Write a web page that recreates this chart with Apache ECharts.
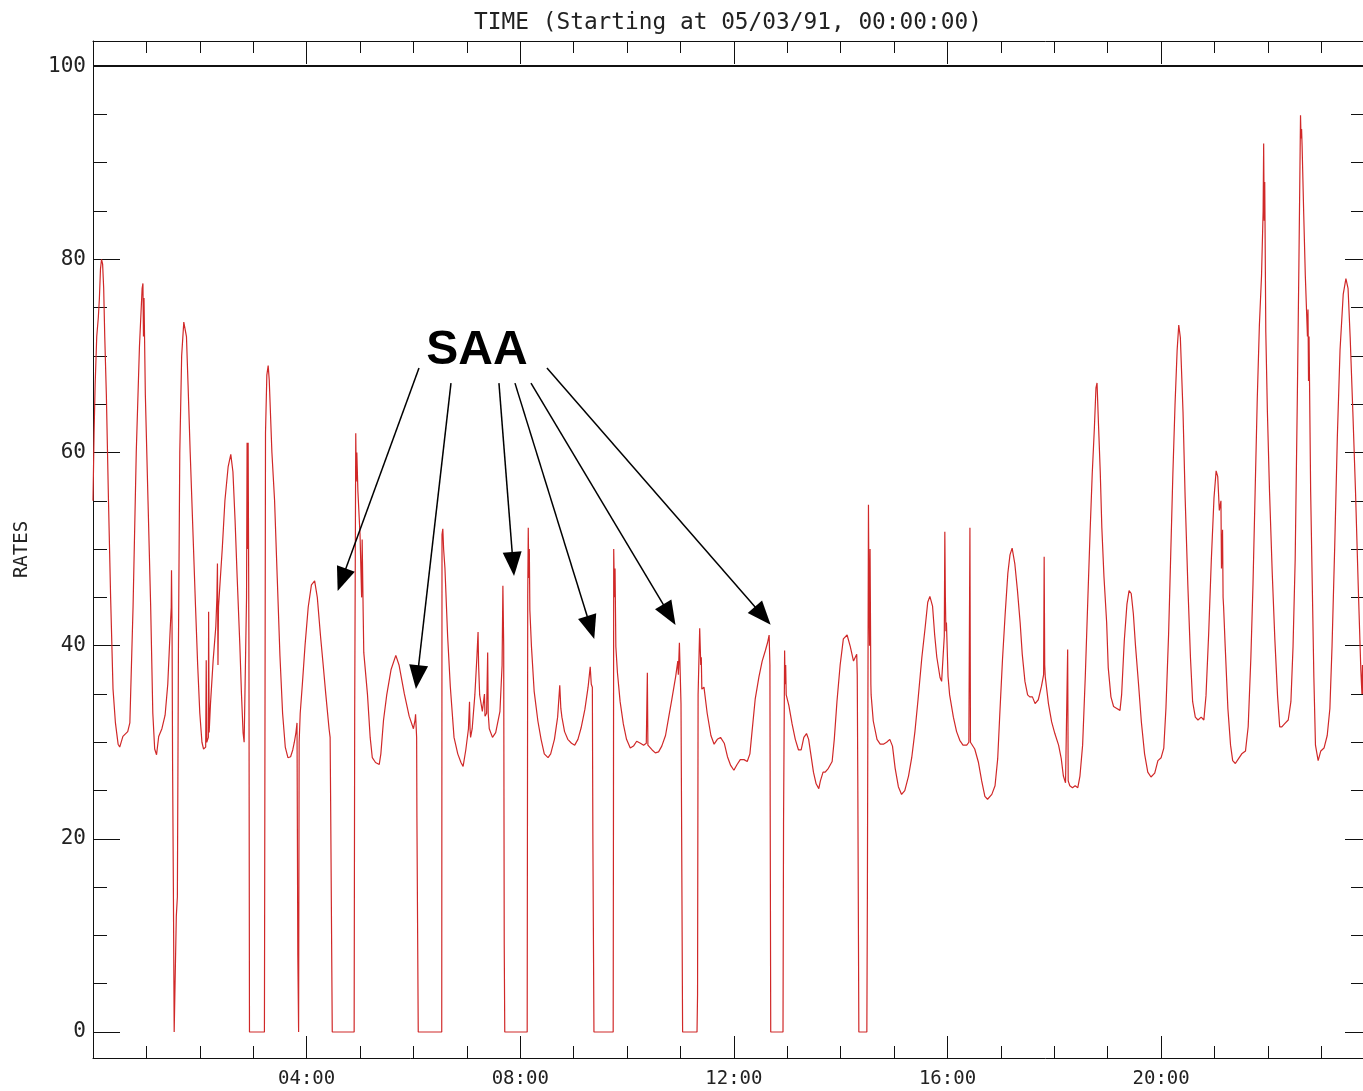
<!DOCTYPE html>
<html>
<head>
<meta charset="utf-8">
<title>RATES</title>
<script src="https://cdn.jsdelivr.net/npm/echarts@6/dist/echarts.min.js"></script>
<style>
  html, body { margin: 0; padding: 0; background: #fff; }
  #chart { width: 1363px; height: 1091px; }
</style>
</head>
<body>
<div id="chart"></div>
<script>
// time in hours since 05/03/91 00:00, count rate
const rates00to04 = [
  [0.00, 55], [0.02, 62], [0.04, 67], [0.07, 72], [0.10, 74], [0.12, 76], [0.14, 79], [0.16, 80],
  [0.18, 79.5], [0.20, 77], [0.22, 72], [0.25, 66], [0.29, 55], [0.33, 45], [0.375, 35.5], [0.42, 32],
  [0.47, 29.8], [0.50, 29.5], [0.56, 30.6], [0.65, 31.1], [0.69, 32], [0.75, 44], [0.81, 60], [0.87, 71],
  [0.92, 77], [0.935, 77.5], [0.945, 72], [0.955, 76], [0.98, 66], [1.03, 55], [1.08, 44], [1.12, 33],
  [1.155, 29.3], [1.19, 28.7], [1.23, 30.6], [1.29, 31.4], [1.35, 32.8], [1.40, 36], [1.44, 41], [1.465, 44],
  [1.47, 47.8], [1.48, 42], [1.49, 28], [1.505, 15], [1.52, 0], [1.55, 0], [1.56, 12], [1.58, 14],
  [1.60, 40], [1.625, 60], [1.66, 70], [1.70, 73.5], [1.72, 73.7], [1.75, 72], [1.78, 67], [1.82, 60],
  [1.87, 52], [1.92, 44], [1.96, 38], [2.00, 33], [2.04, 30], [2.07, 29.3], [2.11, 29.5], [2.12, 38.5],
  [2.13, 30], [2.16, 30.5], [2.165, 43.5], [2.175, 31], [2.20, 34], [2.25, 38.5], [2.30, 42], [2.32, 45],
  [2.33, 48.5], [2.34, 38], [2.35, 44], [2.37, 44], [2.42, 50], [2.47, 55], [2.53, 58.5], [2.58, 59.8],
  [2.62, 58], [2.66, 53], [2.70, 47], [2.75, 40], [2.78, 35], [2.81, 31], [2.83, 30], [2.86, 29.8],
  [2.875, 45], [2.885, 61], [2.895, 50], [2.905, 61], [2.92, 40], [2.93, 0], [3.21, 0], [3.23, 62],
  [3.255, 68], [3.28, 69], [3.30, 67.5], [3.35, 60], [3.40, 55], [3.45, 47], [3.50, 39], [3.55, 33],
  [3.60, 29.5], [3.65, 28.4], [3.70, 28.5], [3.74, 29.2], [3.77, 30], [3.80, 31], [3.82, 32], [3.835, 8],
  [3.85, 0], [3.86, 30], [3.88, 33], [3.92, 36]
];
const rates04to08 = [
  [3.97, 40], [4.03, 44], [4.09, 46.3], [4.15, 46.7], [4.20, 45], [4.26, 41], [4.31, 38], [4.36, 34.9],
  [4.42, 31.4], [4.44, 30.5], [4.45, 23.6], [4.48, 0], [4.89, 0], [4.90, 32.7], [4.92, 62], [4.93, 57],
  [4.94, 60], [4.96, 56], [5.00, 51.5], [5.03, 45], [5.04, 51], [5.06, 43], [5.07, 39.3], [5.14, 34.9],
  [5.19, 30.5], [5.23, 28.4], [5.29, 27.9], [5.36, 27.7], [5.39, 28.8], [5.44, 32.3], [5.50, 34.9], [5.58, 37.5],
  [5.67, 39], [5.73, 38], [5.83, 35], [5.92, 32.7], [6.00, 31.4], [6.03, 32.3], [6.04, 32.9], [6.06, 30.5],
  [6.065, 22.3], [6.09, 0], [6.53, 0], [6.535, 51.5], [6.55, 52.1], [6.565, 50], [6.59, 48], [6.64, 41],
  [6.69, 35.8], [6.76, 30.5], [6.83, 28.8], [6.89, 27.9], [6.93, 27.5], [6.98, 29.2], [7.03, 31.4], [7.05, 34.2],
  [7.06, 31.4], [7.07, 30.5], [7.10, 31.4], [7.15, 34.9], [7.19, 39], [7.21, 41.4], [7.22, 38], [7.24, 34.9],
  [7.29, 33.2], [7.33, 35], [7.34, 32.7], [7.37, 33], [7.39, 39.3], [7.40, 33], [7.42, 31.4], [7.48, 30.5],
  [7.54, 31], [7.62, 33.2], [7.66, 38], [7.675, 46.2], [7.69, 40], [7.70, 9.2], [7.71, 0], [8.13, 0]
];
const rates08to12 = [
  [8.14, 45], [8.15, 52.2], [8.16, 47], [8.17, 50], [8.18, 43.7], [8.21, 39.9], [8.26, 35.3], [8.33, 32.2],
  [8.39, 30.3], [8.45, 28.8], [8.52, 28.4], [8.57, 28.8], [8.64, 30.3], [8.70, 32.6], [8.74, 35.9], [8.76, 33.5],
  [8.78, 32.6], [8.83, 31.1], [8.89, 30.3], [8.96, 29.9], [9.02, 29.7], [9.08, 30.3], [9.14, 31.5], [9.21, 33.4],
  [9.27, 35.7], [9.31, 37.8], [9.33, 36], [9.35, 35.7], [9.36, 20], [9.38, 0], [9.74, 0], [9.745, 20.4],
  [9.75, 50], [9.765, 45], [9.775, 48], [9.79, 39.9], [9.82, 37.2], [9.87, 34.2], [9.93, 31.9], [9.99, 30.3],
  [10.06, 29.4], [10.12, 29.6], [10.18, 30.1], [10.25, 29.9], [10.31, 29.7], [10.36, 29.9], [10.37, 33.5], [10.38, 37.2],
  [10.39, 29.7], [10.42, 29.5], [10.47, 29.2], [10.53, 28.9], [10.59, 29], [10.65, 29.6], [10.72, 30.7], [10.78, 32.6],
  [10.84, 34.5], [10.91, 36.8], [10.95, 38.4], [10.96, 37], [10.98, 40.3], [11.01, 34], [11.02, 23], [11.04, 0],
  [11.31, 0], [11.32, 3.9], [11.33, 34.9], [11.36, 41.8], [11.38, 38], [11.39, 38.8], [11.40, 35.5], [11.44, 35.7],
  [11.50, 33], [11.57, 30.7], [11.63, 29.8], [11.69, 30.3], [11.75, 30.5], [11.82, 29.9], [11.88, 28.5], [11.94, 27.6],
  [12.00, 27.1]
];
const rates12to16 = [
  [12.06, 27.7], [12.12, 28.2], [12.19, 28.2], [12.25, 28], [12.30, 28.8], [12.34, 31.1], [12.40, 34.5], [12.47, 36.8],
  [12.53, 38.4], [12.59, 39.5], [12.63, 40.3], [12.66, 41.1], [12.675, 38], [12.68, 23.4], [12.69, 0], [12.92, 0],
  [12.93, 21.5], [12.95, 39.5], [12.96, 36], [12.97, 38], [12.98, 34.9], [13.03, 33.8], [13.09, 31.9], [13.15, 30.3],
  [13.21, 29.2], [13.26, 29.2], [13.31, 30.5], [13.36, 30.9], [13.40, 30.3], [13.44, 28.8], [13.49, 26.9], [13.54, 25.7],
  [13.59, 25.2], [13.62, 26], [13.67, 26.9], [13.71, 26.9], [13.77, 27.3], [13.84, 28], [13.88, 30.3], [13.93, 34.2],
  [13.99, 38], [14.05, 40.7], [14.12, 41.1], [14.18, 39.9], [14.24, 38.4], [14.27, 38.6], [14.30, 39.1], [14.31, 37],
  [14.32, 26.5], [14.34, 0], [14.49, 0], [14.50, 14.2], [14.51, 35], [14.52, 54.6], [14.53, 45], [14.54, 40],
  [14.55, 50], [14.565, 36], [14.57, 34.9], [14.61, 32.2], [14.68, 30.3], [14.74, 29.8], [14.80, 29.8], [14.86, 30],
  [14.92, 30.3], [14.97, 29.6], [15.02, 27.3], [15.08, 25.4], [15.14, 24.6], [15.20, 25], [15.27, 26.5], [15.33, 28.4],
  [15.39, 31.1], [15.45, 34.5], [15.52, 38.8], [15.58, 41.8], [15.63, 44.5], [15.67, 45.1], [15.72, 44.1], [15.76, 41.1],
  [15.80, 38.8], [15.86, 36.7], [15.89, 36.3], [15.94, 41], [15.95, 51.8], [15.96, 45], [15.97, 41.5], [15.98, 42.4],
  [16.01, 36.8]
];
const rates16to20 = [
  [16.04, 34.9], [16.11, 32.6], [16.17, 31.1], [16.23, 30.2], [16.29, 29.7], [16.36, 29.7], [16.40, 30], [16.41, 41],
  [16.42, 52.2], [16.43, 30], [16.45, 29.9], [16.51, 29.3], [16.58, 27.9], [16.64, 26], [16.70, 24.4], [16.75, 24.1],
  [16.83, 24.6], [16.89, 25.5], [16.94, 28.3], [16.98, 33], [17.03, 38.6], [17.08, 43.3], [17.13, 47.5], [17.17, 49.4],
  [17.21, 50.1], [17.26, 48.5], [17.31, 45.7], [17.36, 42.4], [17.40, 39.1], [17.45, 36.3], [17.50, 34.9], [17.54, 34.7],
  [17.59, 34.7], [17.64, 34], [17.70, 34.4], [17.76, 35.8], [17.80, 37], [17.81, 49.2], [17.82, 38], [17.83, 36.8],
  [17.89, 34], [17.95, 32.1], [18.01, 30.9], [18.08, 29.7], [18.13, 28.3], [18.17, 26.5], [18.21, 25.8], [18.24, 26],
  [18.25, 39.6], [18.26, 26], [18.29, 25.5], [18.34, 25.3], [18.39, 25.5], [18.44, 25.3], [18.48, 26.5], [18.53, 29.7],
  [18.58, 36.8], [18.63, 45.2], [18.67, 51.8], [18.71, 57.8], [18.75, 62.5], [18.78, 66.7], [18.80, 67.2], [18.83, 62.5],
  [18.86, 58], [18.89, 52.2], [18.93, 47.1], [18.98, 42.4], [19.01, 37.7], [19.06, 34.7], [19.11, 33.7], [19.17, 33.5],
  [19.23, 33.3], [19.26, 34.9], [19.31, 40.5], [19.36, 44.3], [19.40, 45.7], [19.44, 45.4], [19.48, 43.3], [19.52, 40],
  [19.58, 35.8], [19.63, 32.1], [19.69, 28.8], [19.75, 26.9], [19.81, 26.4], [19.88, 26.8], [19.94, 28.1], [20.00, 28.4]
];
const rates20to24 = [
  [20.05, 29.4], [20.09, 33.5], [20.14, 41.2], [20.18, 49.5], [20.22, 57.8], [20.26, 64.9], [20.30, 70.6], [20.33, 73.2],
  [20.36, 71.9], [20.41, 64.2], [20.45, 55.3], [20.50, 46.3], [20.55, 38.7], [20.59, 34.2], [20.64, 32.6], [20.69, 32.3],
  [20.75, 32.6], [20.80, 32.3], [20.84, 34.8], [20.89, 41.2], [20.94, 48.9], [20.99, 55.3], [21.03, 58.1], [21.06, 57.5],
  [21.09, 54], [21.12, 55], [21.13, 48], [21.15, 52], [21.16, 45], [21.17, 44], [21.20, 39.9], [21.25, 33.5],
  [21.30, 29.7], [21.34, 28.1], [21.39, 27.8], [21.45, 28.3], [21.51, 28.8], [21.58, 29.1], [21.63, 31.6], [21.68, 38.7],
  [21.72, 46.3], [21.76, 55.9], [21.80, 65.5], [21.84, 73.2], [21.88, 78.3], [21.91, 85], [21.92, 92], [21.93, 84],
  [21.94, 88], [21.96, 72.5], [21.99, 64.2], [22.03, 55.9], [22.08, 47.6], [22.13, 40.6], [22.18, 34.8], [22.22, 31.6],
  [22.26, 31.6], [22.31, 31.9], [22.38, 32.3], [22.43, 34.2], [22.47, 39.9], [22.51, 48.9], [22.55, 65.5], [22.58, 79.6],
  [22.61, 94.9], [22.62, 92.5], [22.63, 93.5], [22.64, 91.7], [22.67, 84.7], [22.70, 78.3], [22.74, 72], [22.75, 74.8],
  [22.76, 67.4], [22.77, 72], [22.80, 55.9], [22.83, 46.3], [22.86, 36.7], [22.89, 29.7], [22.94, 28.1], [22.99, 29.1],
  [23.05, 29.4], [23.11, 30.7], [23.16, 33.5], [23.20, 39.9], [23.25, 50.2], [23.30, 61.7], [23.35, 70.6], [23.41, 76.4],
  [23.46, 78], [23.50, 77], [23.54, 71.9], [23.59, 64.2], [23.64, 55.9], [23.69, 46.3], [23.74, 37.4], [23.76, 35],
  [23.77, 38], [23.78, 35]
];

// axis ticks
const hourMajor = [4, 8, 12, 16, 20];
const hourMinor = [1, 2, 3, 5, 6, 7, 9, 10, 11, 13, 14, 15, 17, 18, 19, 21, 22, 23];
const rateMajor = [0, 20, 40, 60, 80, 100];
const rateMinor = [5, 10, 15, 25, 30, 35, 45, 50, 55, 65, 70, 75, 85, 90, 95];

// SAA arrows: [fromHour, fromRate, toHour, toRate]
const saaArrows = [
  [6.104, 68.74, 4.658, 46.82],
  [6.703, 67.18, 6.072, 36.74],
  [7.601, 67.18, 7.866, 48.45],
  [7.901, 67.18, 9.319, 41.87],
  [8.201, 67.18, 10.792, 43.21],
  [8.500, 68.74, 12.541, 43.10]
];

const X_MAX = 23.78;
const Y_MIN = -2.69;
const Y_MAX = 102.6;
const INK = "#111";
const TEXT = "#222";
const MONO = "DejaVu Sans Mono";

const rates = [].concat(rates00to04, rates04to08, rates08to12, rates12to16, rates16to20, rates20to24);

const chart = echarts.init(document.getElementById("chart"));

const xAxisBase = (position, ticks, len, showLine) => ({
  type: "value",
  position: position,
  min: 0,
  max: X_MAX,
  axisLine: { show: showLine, onZero: false, lineStyle: { color: INK, width: 1 } },
  axisTick: { show: true, inside: true, length: len, customValues: ticks, lineStyle: { color: INK, width: 1 } },
  axisLabel: { show: false },
  splitLine: { show: false },
});

const yAxisBase = (position, ticks, len, showLine) => ({
  type: "value",
  position: position,
  min: Y_MIN,
  max: Y_MAX,
  axisLine: { show: showLine, onZero: false, lineStyle: { color: INK, width: 1 } },
  axisTick: { show: true, inside: true, length: len, customValues: ticks, lineStyle: { color: INK, width: 1 } },
  axisLabel: { show: false },
  splitLine: { show: false },
});

const bottomAxis = xAxisBase("bottom", hourMajor, 22, true);
bottomAxis.axisLabel = {
  show: true,
  customValues: hourMajor,
  margin: 12,
  color: TEXT,
  fontFamily: MONO,
  fontSize: 19,
  formatter: (v) => String(v).padStart(2, "0") + ":00",
};

const topAxis = xAxisBase("top", hourMajor, 23, true);
topAxis.name = "TIME (Starting at 05/03/91, 00:00:00)";
topAxis.nameLocation = "middle";
topAxis.nameGap = 6;
topAxis.nameTextStyle = { color: TEXT, fontFamily: MONO, fontSize: 22.8 };

const leftAxis = yAxisBase("left", rateMajor, 27, true);
leftAxis.axisLabel = {
  show: true,
  customValues: rateMajor,
  margin: 7,
  color: TEXT,
  fontFamily: MONO,
  fontSize: 21,
};
leftAxis.name = "RATES";
leftAxis.nameLocation = "middle";
leftAxis.nameGap = 61;
leftAxis.nameTextStyle = { color: TEXT, fontFamily: MONO, fontSize: 19 };

const arrowData = saaArrows.map((a) => [
  { coord: [a[0], a[1]], symbol: "none" },
  { coord: [a[2], a[3]], symbol: "triangle", symbolSize: [19, 24] },
]);

const option = {
  backgroundColor: "#fff",
  animation: false,
  grid: { left: 93, right: 0, top: 41, bottom: 33, outerBoundsMode: "none" },
  xAxis: [
    bottomAxis,
    xAxisBase("bottom", hourMinor, 12, false),
    topAxis,
    xAxisBase("top", hourMinor, 12, false),
  ],
  yAxis: [
    leftAxis,
    yAxisBase("left", rateMinor, 14, false),
    yAxisBase("right", rateMajor, 18, false),
    yAxisBase("right", rateMinor, 12, false),
  ],
  graphic: [
    {
      type: "text",
      style: {
        x: 477,
        y: 351,
        text: "SAA",
        fill: "#000",
        font: 'bold 48px "Liberation Sans", Arial, sans-serif',
        textAlign: "center",
        textVerticalAlign: "middle",
      },
    },
  ],
  series: [
    {
      name: "RATES",
      type: "line",
      xAxisIndex: 0,
      yAxisIndex: 0,
      data: rates,
      showSymbol: false,
      symbol: "none",
      lineStyle: { color: "#d02828", width: 1.2 },
      silent: true,
      markLine: {
        silent: true,
        animation: false,
        label: { show: false },
        emphasis: { disabled: true },
        lineStyle: { type: "solid", color: "#000", width: 1.5 },
        data: [
          [
            { coord: [0, 100], symbol: "none", lineStyle: { width: 2, color: INK } },
            { coord: [X_MAX, 100], symbol: "none" },
          ],
        ].concat(arrowData),
      },
    },
  ],
};

chart.setOption(option);

window.addEventListener("resize", () => chart.resize());
</script>
</body>
</html>
